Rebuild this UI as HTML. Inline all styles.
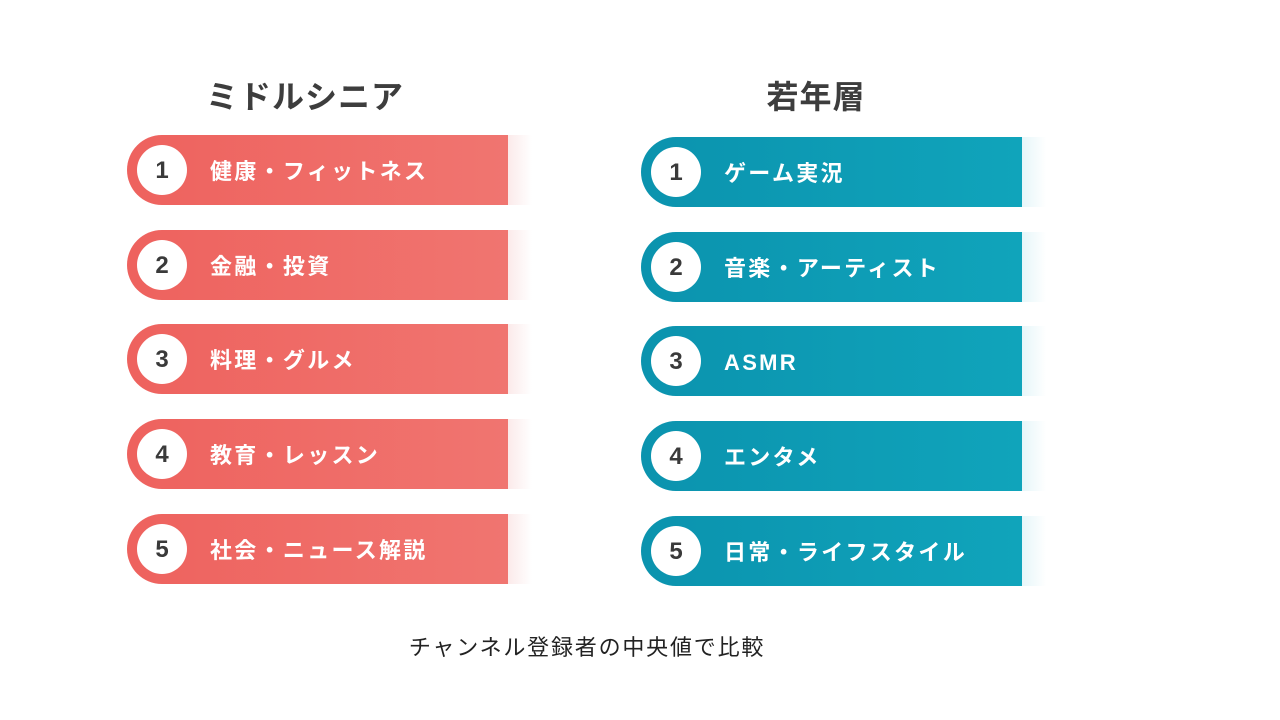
<!DOCTYPE html>
<html><head><meta charset="utf-8"><style>
body{margin:0;width:1280px;height:720px;background:#fff;position:relative;overflow:hidden;font-family:"Liberation Sans","Noto Sans CJK JP",sans-serif}
.t{position:absolute;font-weight:bold;font-size:32px;color:#3d3d3d;transform:translateX(-50%);top:72px;letter-spacing:1px}
.bar{position:absolute;height:70px;width:381px;border-radius:35px 0 0 35px}
.ext{position:absolute;height:70px;width:24px}
.c{position:absolute;left:10px;top:10px;width:50px;height:50px;border-radius:50%;background:#fff;color:#3a3a3a;font-weight:bold;font-size:24px;text-align:center;line-height:52px}
.l{position:absolute;left:83px;top:2px;line-height:70px;font-weight:bold;font-size:22px;color:#fff;white-space:nowrap;letter-spacing:2.3px}
.red{background:linear-gradient(90deg,#ee625e,#f07570)}
.blue{background:linear-gradient(90deg,#0b93ae,#10a4bb)}
.cap{position:absolute;left:587px;top:630px;transform:translateX(-50%);font-size:22px;color:#222;white-space:nowrap;letter-spacing:1.8px}
</style></head><body>
<div class="t" style="left:305px">ミドルシニア</div>
<div class="t" style="left:816px">若年層</div>
<div id="rows"></div>
<div class="cap">チャンネル登録者の中央値で比較</div>
<script>
const leftItems=["健康・フィットネス","金融・投資","料理・グルメ","教育・レッスン","社会・ニュース解説"];
const rightItems=["ゲーム実況","音楽・アーティスト","ASMR","エンタメ","日常・ライフスタイル"];
const root=document.getElementById('rows');
function make(items,x,y0,cls,extColor,side){
  items.forEach((txt,i)=>{
    const y=y0+i*94.7;
    const b=document.createElement('div');
    b.className='bar '+cls;b.style.left=x+'px';b.style.top=y+'px';
    
    
    b.innerHTML='<div class="c">'+(i+1)+'</div><div class="l">'+txt+'</div>';
    root.appendChild(b);
    const e=document.createElement('div');
    e.className='ext';e.style.left=(x+381)+'px';e.style.top=y+'px';
    e.style.background='linear-gradient(90deg,'+extColor+',rgba(255,255,255,0))';
    
    
    root.appendChild(e);
  });
}
make(leftItems,127,135,'red','#fbeaea','left');
make(rightItems,641,137,'blue','#e6f6f9','right');
</script>
</body></html>
